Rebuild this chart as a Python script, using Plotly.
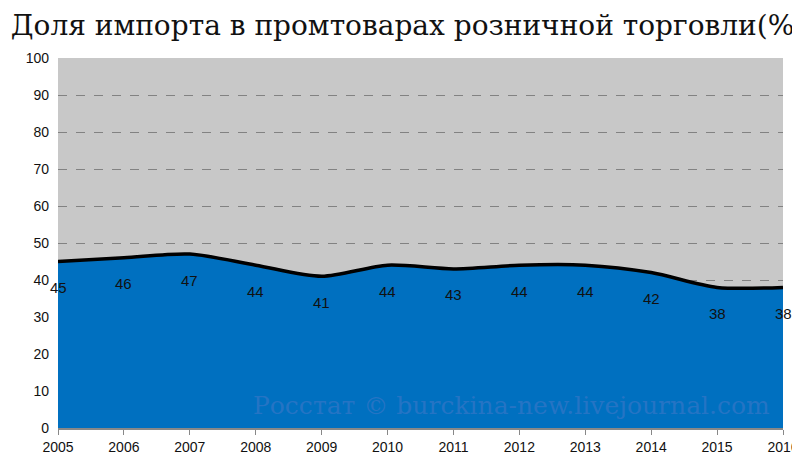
import plotly.graph_objects as go

years = list(range(2005, 2017))
share = [45, 46, 47, 44, 41, 44, 43, 44, 44, 42, 38, 38]
y_ticks = list(range(0, 101, 10))

fig = go.Figure()
fig.add_trace(go.Scatter(
    x=years, y=share, mode="lines", fill="tozeroy",
    fillcolor="#0070c0",
    line=dict(color="black", width=3.5, shape="spline", smoothing=0.8),
    hoverinfo="x+y",
))

# value labels sit a little below each point
for yr, v in zip(years, share):
    fig.add_annotation(x=yr, y=v, text=str(v), showarrow=False, yshift=-26,
                       font=dict(family="Liberation Sans, sans-serif", size=15, color="#111"))

fig.add_annotation(
    text="Росстат © burckina-new.livejournal.com", xref="paper", yref="paper",
    x=0.985, y=0.015, xanchor="right", yanchor="bottom", showarrow=False,
    font=dict(family="DejaVu Serif, serif", size=25, color="rgba(70,120,200,0.55)"),
)

fig.update_layout(
    width=800, height=461,
    title=dict(text="Доля импорта в промтоварах розничной торговли(%)",
               x=0.5, xanchor="center", y=0.985, yanchor="top",
               font=dict(family="DejaVu Serif, serif", size=28, color="#111")),
    paper_bgcolor="white", plot_bgcolor="#c8c8c8",
    margin=dict(l=50, r=25, t=50, b=41),
    showlegend=False,
    font=dict(family="Liberation Sans, sans-serif", size=14, color="#111"),
    xaxis=dict(range=[2005, 2016], tickmode="array", tickvals=years,
               showgrid=False, ticks="outside", ticklen=5, tickcolor="#888",
               showline=True, linecolor="#888", linewidth=2, automargin=False),
    yaxis=dict(range=[0, 100], tickmode="array", tickvals=y_ticks,
               showgrid=True, gridcolor="rgba(60,60,60,0.5)", griddash="dash",
               gridwidth=1, layer="above traces", zeroline=False, automargin=False,
               ticklabelstandoff=8),
)

fig.write_html("out.html")
